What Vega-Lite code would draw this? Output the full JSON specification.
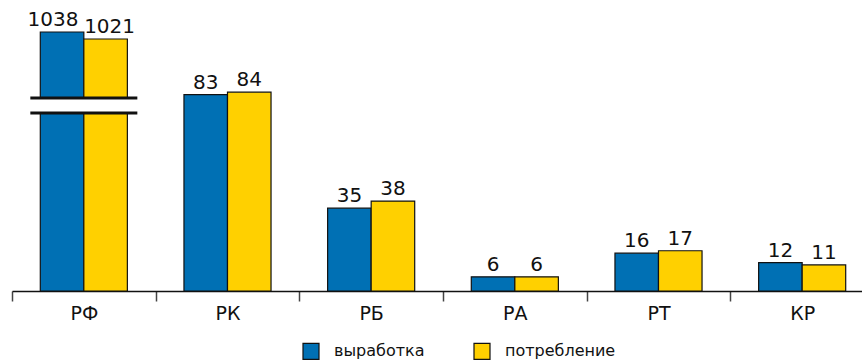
{
  "$schema": "https://vega.github.io/schema/vega-lite/v6.json",
  "width": 850,
  "height": 291,
  "padding": {"left": 12, "top": 0, "right": 0, "bottom": 72},
  "autosize": {"type": "none"},
  "background": "white",
  "config": {
    "view": {"stroke": null},
    "font": "DejaVu Sans"
  },
  "datasets": {
    "bars": [
      {"region": "РФ", "series": "выработка", "value": 1038},
      {"region": "РФ", "series": "потребление", "value": 1021},
      {"region": "РК", "series": "выработка", "value": 83},
      {"region": "РК", "series": "потребление", "value": 84},
      {"region": "РБ", "series": "выработка", "value": 35},
      {"region": "РБ", "series": "потребление", "value": 38},
      {"region": "РА", "series": "выработка", "value": 6},
      {"region": "РА", "series": "потребление", "value": 6},
      {"region": "РТ", "series": "выработка", "value": 16},
      {"region": "РТ", "series": "потребление", "value": 17},
      {"region": "КР", "series": "выработка", "value": 12},
      {"region": "КР", "series": "потребление", "value": 11}
    ],
    "axisBreak": [
      {"region": "РФ", "part": "edge", "lo": 74.57, "hi": 82.18},
      {"region": "РФ", "part": "gap", "lo": 75.83, "hi": 80.9}
    ]
  },
  "encoding": {
    "x": {
      "field": "region",
      "type": "nominal",
      "sort": ["РФ", "РК", "РБ", "РА", "РТ", "КР"],
      "scale": {"range": [0, 862], "paddingInner": 0, "paddingOuter": 0},
      "axis": {
        "title": null,
        "labelAngle": 0,
        "labelFontSize": 19,
        "labelColor": "#111",
        "labelPadding": 3,
        "tickBand": "extent",
        "tickSize": 10,
        "tickColor": "#444",
        "tickWidth": 1.5,
        "domainColor": "#111",
        "domainWidth": 1.5
      }
    },
    "xOffset": {
      "field": "series",
      "type": "nominal",
      "sort": ["выработка", "потребление"],
      "scale": {"paddingInner": 0, "paddingOuter": 0.65}
    }
  },
  "layer": [
    {
      "data": {"name": "bars"},
      "mark": {"type": "bar", "stroke": "#111", "strokeWidth": 1.2},
      "encoding": {
        "y": {
          "field": "value",
          "type": "quantitative",
          "scale": {
            "domain": [0, 90, 1000, 1050],
            "range": [291, 78, 47.65, 27.06],
            "zero": false,
            "nice": false
          },
          "axis": null
        },
        "color": {
          "field": "series",
          "type": "nominal",
          "sort": ["выработка", "потребление"],
          "scale": {"range": ["#0070B4", "#FFD000"]},
          "legend": {
            "title": null,
            "orient": "none",
            "legendX": 290,
            "legendY": 342,
            "direction": "horizontal",
            "symbolType": "square",
            "symbolSize": 256,
            "symbolStrokeColor": "#111",
            "symbolStrokeWidth": 1.2,
            "labelFontSize": 16,
            "labelColor": "#111",
            "labelOffset": 14,
            "columnPadding": 46
          }
        }
      }
    },
    {
      "data": {"name": "bars"},
      "transform": [{"filter": "datum.region !== 'РФ'"}],
      "mark": {"type": "text", "baseline": "alphabetic", "dy": -6, "fontSize": 20, "color": "#111"},
      "encoding": {
        "y": {"field": "value", "type": "quantitative"},
        "text": {"field": "value", "type": "quantitative"}
      }
    },
    {
      "data": {"name": "bars"},
      "transform": [{"filter": "datum.region === 'РФ' && datum.series === 'выработка'"}],
      "mark": {"type": "text", "baseline": "alphabetic", "dy": -6, "dx": -9, "fontSize": 20, "color": "#111"},
      "encoding": {
        "y": {"field": "value", "type": "quantitative"},
        "text": {"field": "value", "type": "quantitative"}
      }
    },
    {
      "data": {"name": "bars"},
      "transform": [{"filter": "datum.region === 'РФ' && datum.series === 'потребление'"}],
      "mark": {"type": "text", "baseline": "alphabetic", "dy": -6, "dx": 4, "fontSize": 20, "color": "#111"},
      "encoding": {
        "y": {"field": "value", "type": "quantitative"},
        "text": {"field": "value", "type": "quantitative"}
      }
    },
    {
      "data": {"name": "axisBreak"},
      "transform": [{"filter": "datum.part === 'edge'"}],
      "mark": {"type": "bar", "width": 107, "color": "#111"},
      "encoding": {
        "xOffset": null,
        "y": {"field": "lo", "type": "quantitative"},
        "y2": {"field": "hi"}
      }
    },
    {
      "data": {"name": "axisBreak"},
      "transform": [{"filter": "datum.part === 'gap'"}],
      "mark": {"type": "bar", "width": 111, "color": "white"},
      "encoding": {
        "xOffset": null,
        "y": {"field": "lo", "type": "quantitative"},
        "y2": {"field": "hi"}
      }
    }
  ]
}
